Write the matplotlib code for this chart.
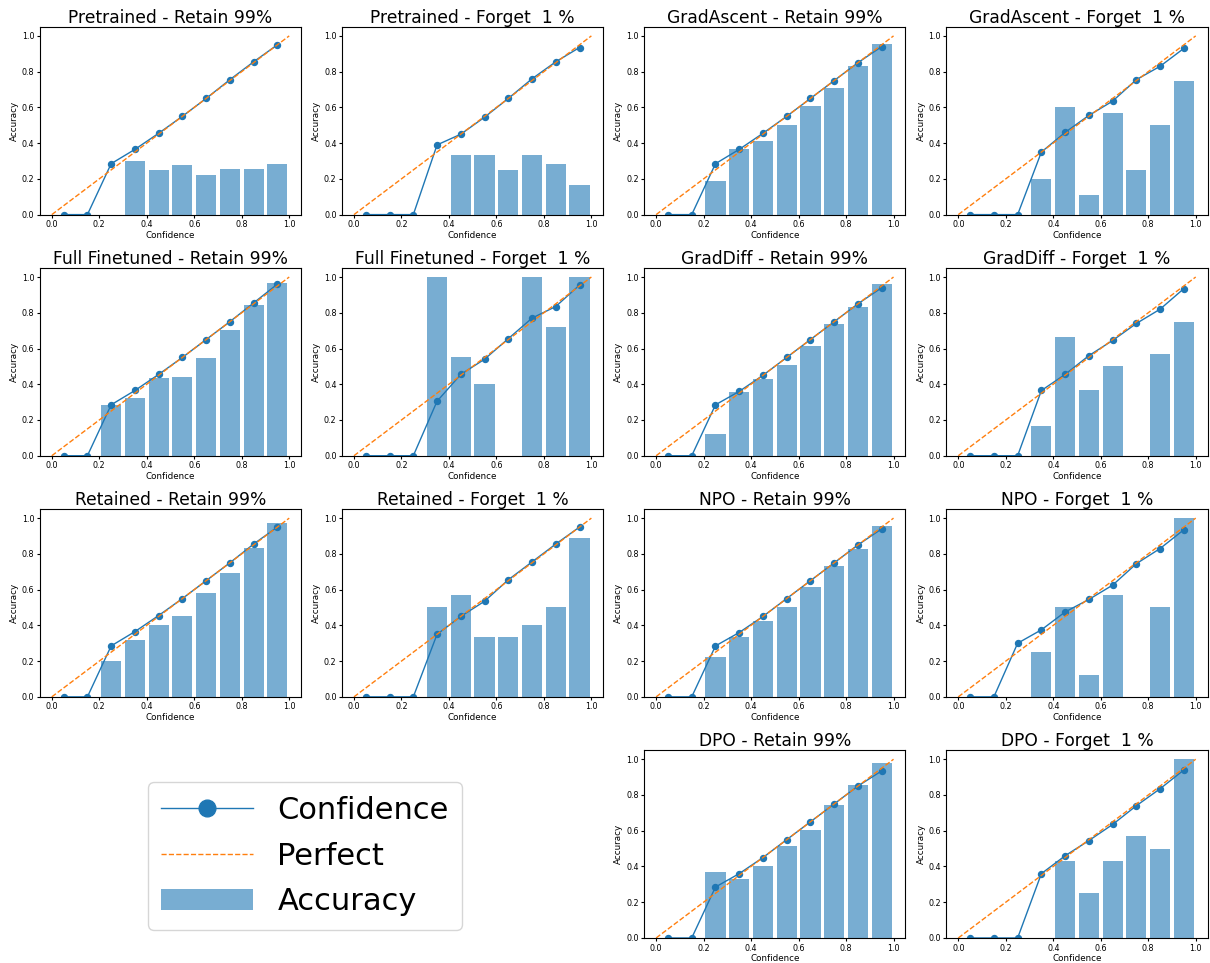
import matplotlib
matplotlib.use("Agg")
import matplotlib.pyplot as plt
import numpy as np

# bin centres used for both the confidence curve and the accuracy bars
bins = [0.05, 0.15, 0.25, 0.35, 0.45, 0.55, 0.65, 0.75, 0.85, 0.95]

methods = ["Pretrained", "GradAscent", "Full Finetuned", "GradDiff",
           "Retained", "NPO", "DPO"]

# mean confidence per bin (0 where the bin is empty)
conf_retain = {
    "Pretrained":     [0, 0, 0.285, 0.365, 0.455, 0.55, 0.65, 0.755, 0.855, 0.95],
    "GradAscent":     [0, 0, 0.285, 0.365, 0.455, 0.55, 0.65, 0.75, 0.85, 0.94],
    "Full Finetuned": [0, 0, 0.285, 0.365, 0.455, 0.55, 0.65, 0.75, 0.855, 0.96],
    "GradDiff":       [0, 0, 0.285, 0.36, 0.45, 0.55, 0.65, 0.75, 0.85, 0.94],
    "Retained":       [0, 0, 0.285, 0.365, 0.455, 0.55, 0.65, 0.75, 0.855, 0.95],
    "NPO":            [0, 0, 0.285, 0.36, 0.45, 0.55, 0.65, 0.75, 0.85, 0.94],
    "DPO":            [0, 0, 0.285, 0.36, 0.45, 0.55, 0.65, 0.75, 0.85, 0.935],
}
acc_retain = {
    "Pretrained":     [0, 0, 0, 0.30, 0.25, 0.28, 0.22, 0.255, 0.255, 0.285],
    "GradAscent":     [0, 0, 0.19, 0.365, 0.41, 0.50, 0.61, 0.71, 0.83, 0.955],
    "Full Finetuned": [0, 0, 0.285, 0.325, 0.435, 0.44, 0.545, 0.705, 0.845, 0.965],
    "GradDiff":       [0, 0, 0.12, 0.355, 0.43, 0.505, 0.615, 0.735, 0.83, 0.96],
    "Retained":       [0, 0, 0.20, 0.32, 0.40, 0.455, 0.58, 0.695, 0.835, 0.97],
    "NPO":            [0, 0, 0.225, 0.335, 0.425, 0.505, 0.615, 0.73, 0.83, 0.955],
    "DPO":            [0, 0, 0.37, 0.33, 0.40, 0.515, 0.605, 0.745, 0.855, 0.98],
}
conf_forget = {
    "Pretrained":     [0, 0, 0, 0.39, 0.45, 0.545, 0.65, 0.76, 0.855, 0.935],
    "GradAscent":     [0, 0, 0, 0.35, 0.46, 0.555, 0.635, 0.755, 0.83, 0.93],
    "Full Finetuned": [0, 0, 0, 0.305, 0.455, 0.54, 0.655, 0.77, 0.835, 0.955],
    "GradDiff":       [0, 0, 0, 0.365, 0.455, 0.56, 0.645, 0.74, 0.82, 0.935],
    "Retained":       [0, 0, 0, 0.35, 0.45, 0.535, 0.655, 0.755, 0.855, 0.95],
    "NPO":            [0, 0, 0.30, 0.375, 0.475, 0.545, 0.625, 0.745, 0.83, 0.935],
    "DPO":            [0, 0, 0, 0.36, 0.46, 0.545, 0.635, 0.74, 0.835, 0.94],
}
acc_forget = {
    "Pretrained":     [0, 0, 0, 0, 0.335, 0.335, 0.25, 0.335, 0.285, 0.165],
    "GradAscent":     [0, 0, 0, 0.20, 0.60, 0.11, 0.57, 0.25, 0.50, 0.75],
    "Full Finetuned": [0, 0, 0, 1.0, 0.555, 0.40, 0, 1.0, 0.72, 1.0],
    "GradDiff":       [0, 0, 0, 0.165, 0.665, 0.365, 0.50, 0, 0.57, 0.75],
    "Retained":       [0, 0, 0, 0.50, 0.57, 0.335, 0.335, 0.40, 0.50, 0.89],
    "NPO":            [0, 0, 0, 0.25, 0.50, 0.125, 0.57, 0, 0.50, 1.0],
    "DPO":            [0, 0, 0, 0, 0.43, 0.25, 0.43, 0.57, 0.50, 1.0],
}

# grid slot (row, col) for each retain/forget pair
slots = {
    "Pretrained": (0, 0), "GradAscent": (0, 2),
    "Full Finetuned": (1, 0), "GradDiff": (1, 2),
    "Retained": (2, 0), "NPO": (2, 2),
    "DPO": (3, 2),
}


def draw_panel(ax, title, conf, acc):
    ax.plot(bins, conf, marker="o", markersize=4.3, linewidth=1, label="Confidence")
    ax.plot([0, 1], [0, 1], linestyle="--", linewidth=1, label="Perfect")
    ax.bar(bins, acc, width=0.085, alpha=0.6, label="Accuracy")
    ax.set_title(title, fontsize=12.3, pad=3)
    ax.set_xlabel("Confidence", fontsize=6.3, labelpad=1)
    ax.set_ylabel("Accuracy", fontsize=6.3, labelpad=2)
    ax.set_xticks([0, 0.2, 0.4, 0.6, 0.8, 1.0])
    ax.set_yticks([0, 0.2, 0.4, 0.6, 0.8, 1.0])
    ax.tick_params(labelsize=5.8, length=2.5, pad=1.5)


fig, axes = plt.subplots(4, 4, figsize=(12.1, 9.63), dpi=100)
fig.subplots_adjust(left=0.033, right=0.998, top=0.972, bottom=0.026,
                    wspace=0.157, hspace=0.285)

for m in methods:
    r, c = slots[m]
    draw_panel(axes[r, c], f"{m} - Retain 99%", conf_retain[m], acc_retain[m])
    draw_panel(axes[r, c + 1], f"{m} - Forget  1 %", conf_forget[m], acc_forget[m])

axes[3, 0].axis("off")
axes[3, 1].axis("off")

handles, labels = axes[0, 0].get_legend_handles_labels()
fig.legend(handles, labels, loc="center", bbox_to_anchor=(305 / 1210, 1 - 856 / 963),
           fontsize=22, markerscale=2.8, handlelength=3.0, borderpad=0.45,
           labelspacing=0.55)

fig.savefig("out.png", dpi=100)
